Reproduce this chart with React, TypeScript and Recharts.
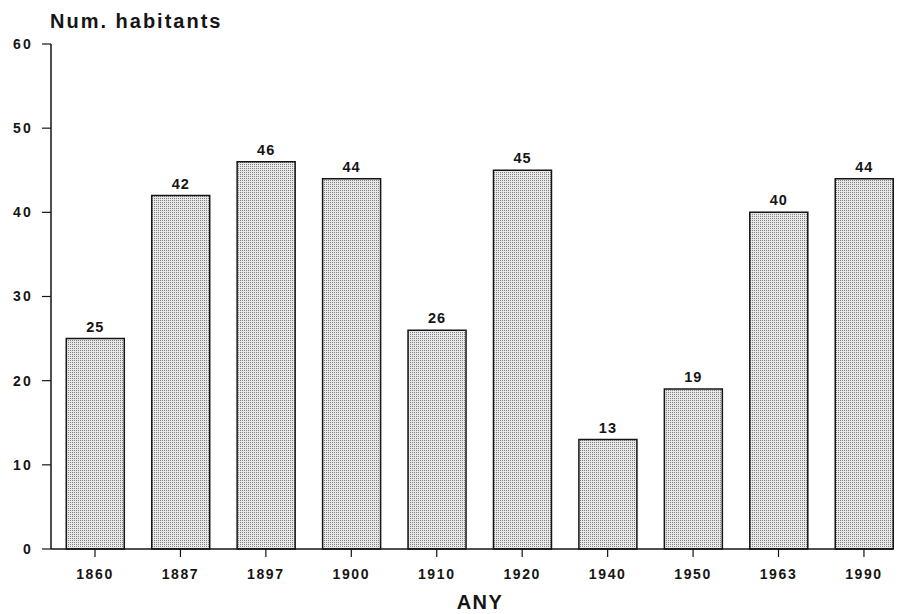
import { BarChart, Bar, XAxis, YAxis, LabelList } from 'recharts'

const years = ['1860', '1887', '1897', '1900', '1910', '1920', '1940', '1950', '1963', '1990']
const habitants = [25, 42, 46, 44, 26, 45, 13, 19, 40, 44]
const yTicks = [0, 10, 20, 30, 40, 50, 60]

const chartData = years.map((any, idx) => ({ idx, any, habitants: habitants[idx] }))

const FONT = '"Liberation Sans", Arial, Helvetica, sans-serif'
const INK = '#151515'

export default function App() {
  return (
    <div style={{ position: 'absolute', left: 0, top: 0, width: 901, height: 614, background: '#fff' }}>
      <BarChart
        width={901}
        height={614}
        data={chartData}
        margin={{ top: 44, right: 8, bottom: 0, left: 0 }}
        style={{ fontFamily: FONT }}
      >
        <defs>
          <pattern id="stipple" width="2" height="2" patternUnits="userSpaceOnUse">
            <rect width="2" height="2" fill="#e8e8e8" />
            <rect width="1" height="1" fill="#808080" />
          </pattern>
        </defs>
        <text x={50} y={28} fontFamily={FONT} fontWeight="bold" fontSize={20} letterSpacing={2} fill={INK}>
          Num. habitants
        </text>
        <XAxis
          type="number"
          dataKey="idx"
          domain={[-0.515, 9.34]}
          ticks={[0, 1, 2, 3, 4, 5, 6, 7, 8, 9]}
          tickFormatter={(v: number) => years[v]}
          height={65}
          tickSize={8}
          tickMargin={12}
          axisLine={{ stroke: INK, strokeWidth: 1.5 }}
          tickLine={{ stroke: INK, strokeWidth: 1.2 }}
          tick={{ fontSize: 14, fontWeight: 'bold', fill: INK, letterSpacing: 1.6 }}
          label={{
            value: 'ANY',
            position: 'insideBottom',
            offset: 5,
            dx: 8,
            style: { fontSize: 20, fontWeight: 'bold', fill: INK, letterSpacing: 1.5 },
          }}
        />
        <YAxis
          domain={[0, 60]}
          ticks={yTicks}
          width={51}
          tickSize={9}
          tickMargin={9}
          axisLine={{ stroke: INK, strokeWidth: 1.5 }}
          tickLine={{ stroke: INK, strokeWidth: 1.2 }}
          tick={{ fontSize: 14, fontWeight: 'bold', fill: INK, letterSpacing: 2.2 }}
        />
        <Bar
          dataKey="habitants"
          barSize={58}
          fill="url(#stipple)"
          stroke={INK}
          strokeWidth={1.5}
          isAnimationActive={false}
        >
          <LabelList
            dataKey="habitants"
            position="top"
            offset={7}
            style={{ fontSize: 14.5, fontWeight: 'bold', fill: INK, letterSpacing: 1 }}
          />
        </Bar>
      </BarChart>
    </div>
  )
}
